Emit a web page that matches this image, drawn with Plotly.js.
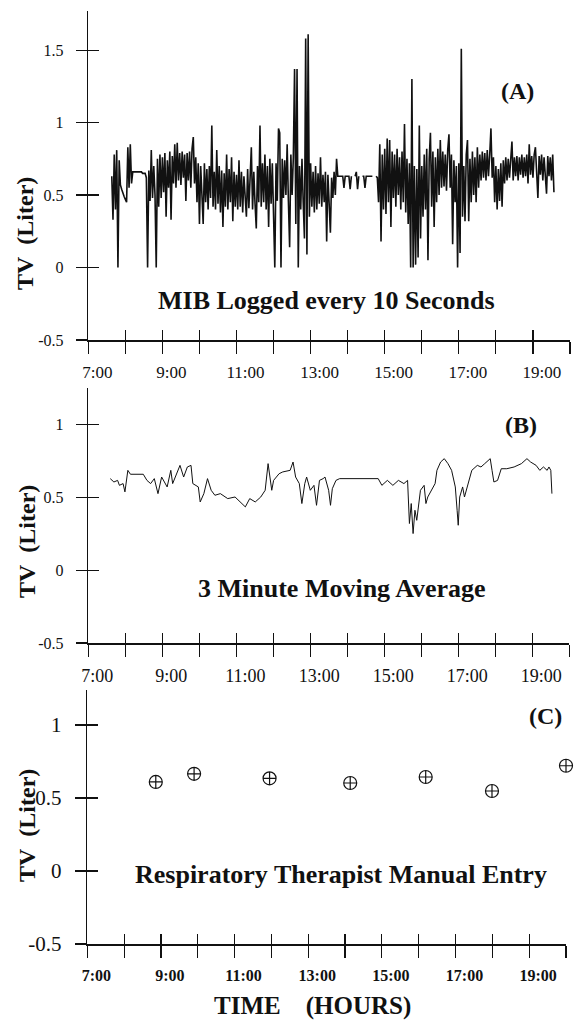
<!DOCTYPE html>
<html><head><meta charset="utf-8">
<script src="https://cdn.plot.ly/plotly-3.0.1.min.js"></script>
<style>html,body{margin:0;padding:0;background:#fff}#chart{width:577px;height:1022px}</style>
</head><body><div id="chart"></div>
<script>
// ---------- axis ticks ----------
const hourTicks  = [7, 8, 9, 10, 11, 12, 13, 14, 15, 16, 17, 18, 19, 20];
const hourLabels = ["7:00", "", "9:00", "", "11:00", "", "13:00", "", "15:00", "", "17:00", "", "19:00", ""];
const tvTicksA  = [-0.5, 0, 0.5, 1, 1.5];
const tvLabelsA = ["-0.5", "0", "0.5", "1", "1.5"];
const tvTicksBC  = [-0.5, 0, 0.5, 1];
const tvLabelsBC = ["-0.5", "0", "0.5", "1"];

// ---------- (A) MIB logged values, read every 2 minutes from 7:38 ----------
const aStartHour = 7 + 38 / 60;
const aStepHours = 2 / 60;
const a07 = [.63,.33,.78,.40,.81,0,.74,.57,.54,.51,.49];
const a08 = [.47,.45,.83,.55,.85,.58,.66,.66,.66,.66,.66,.66,.66,.66,.65,.65,.65,.62,0,.67,.46,.81,.48,.70,.50,0,.75,.42,.78,.48];
const a09 = [.76,.52,.79,.35,.74,.55,.80,.33,.77,.58,.85,.55,.86,.60,.79,.57,.80,.62,.78,.46,.79,.60,.80,.55,.82,.90,.58,.76,.45,.72];
const a10 = [.30,.70,.42,.30,.72,.45,.68,.40,.70,.48,.98,.42,.66,.40,.81,.44,.70,.38,.67,.28,.65,.42,.78,.40,.68,.45,.76,.32,.66,.42];
const a11 = [.64,.40,.74,.42,.66,.38,.63,.43,.35,.68,.41,.62,.83,.40,.66,.44,.27,.70,.45,.98,.42,.72,.45,.78,.40,.70,.28,.75,.44,.72];
const a12 = [.44,0,.72,.46,.96,.93,0,.75,.48,.74,.50,.85,.46,.14,.78,.50,.76,1.37,.30,1.37,0,.70,.40,.75,.45,.20,1.58,.09,1.61,.35];
const a13 = [.72,.42,.66,.38,.70,.40,.65,.44,.76,.42,.64,.45,.66,.18,.64,.44,.24,.62,.48,.66,.50,.75,.63,.63,.63,.63,.63,.55,.63,.63];
const a14 = [.63,.63,.54,.63,null,null,.63,.66,.54,.63,null,null,.63,.63,.55,.63,.63,.63,.63,.63,.63,null,null,.63,.62,.45,.85,.18,.78,.40];
const a15 = [.82,.37,.89,.45,.88,.28,.80,.48,.78,.42,.82,.50,.76,.40,.80,.45,.99,.38,.75,.30,.72,0,1.30,0,.70,.02,.68,.07,.98,.20];
const a16 = [.70,.35,.78,.40,.82,.05,.75,.93,.42,.80,.28,.76,.45,.82,.50,.88,.55,.80,.56,.78,.53,.81,.92,.55,.78,.16,.74,.45,.70,0];
const a17 = [.72,.10,1.51,.35,.70,.32,.78,.88,.32,.75,.45,.80,.50,.76,.45,.83,.55,.78,.60,.80,.62,.79,.60,.81,.63,.78,.96,.62,.76,.45];
const a18 = [.70,.40,.68,.46,.72,.42,.74,.58,.76,.60,.75,.62,.77,.87,.60,.76,.63,.77,.60,.76,.64,.78,.62,.76,.63,.78,.58,.85,.64,.77];
const a19 = [.62,.78,.83,.63,.48,.77,.64,.78,.60,.76,.62,.51,.77,.63,.76,.60,.78,.52];

// ---------- (B) 3 minute moving average ----------
const bTime = [7.593,7.692,7.792,7.841,7.940,7.990,8.069,8.139,8.486,8.585,8.684,8.784,8.883,8.982,9.131,9.230,9.280,9.379,9.478,9.577,9.677,9.776,9.825,9.974,10.024,10.123,10.222,10.321,10.421,10.569,10.768,10.966,11.115,11.244,11.363,11.512,11.661,11.780,11.859,11.958,12.008,12.157,12.256,12.455,12.534,12.603,12.703,12.772,12.851,12.901,13.0,13.099,13.168,13.248,13.347,13.397,13.496,13.546,13.595,13.694,13.793,14.835,14.934,15.083,15.232,15.381,15.530,15.629,15.679,15.728,15.778,15.828,15.877,15.927,15.977,16.076,16.125,16.175,16.274,16.373,16.423,16.522,16.621,16.720,16.819,16.919,16.968,16.998,17.038,17.117,17.167,17.266,17.365,17.514,17.613,17.714,17.863,17.912,17.962,18.061,18.161,18.310,18.508,18.706,18.855,18.954,19.103,19.202,19.301,19.401,19.450,19.500,19.530];
const bTV   = [0.628,0.605,0.616,0.582,0.594,0.537,0.685,0.658,0.658,0.616,0.594,0.628,0.525,0.639,0.571,0.685,0.594,0.662,0.719,0.639,0.708,0.719,0.594,0.571,0.468,0.525,0.628,0.548,0.514,0.525,0.491,0.502,0.468,0.434,0.491,0.468,0.502,0.548,0.731,0.548,0.616,0.662,0.674,0.685,0.742,0.639,0.594,0.457,0.594,0.639,0.548,0.582,0.445,0.616,0.628,0.639,0.548,0.445,0.559,0.616,0.628,0.628,0.582,0.616,0.582,0.616,0.594,0.616,0.320,0.457,0.251,0.411,0.342,0.468,0.548,0.582,0.457,0.502,0.548,0.594,0.685,0.742,0.765,0.731,0.685,0.571,0.411,0.308,0.502,0.571,0.502,0.594,0.685,0.719,0.708,0.731,0.765,0.685,0.605,0.616,0.696,0.696,0.708,0.731,0.765,0.742,0.719,0.685,0.708,0.685,0.708,0.685,0.525];

// ---------- (C) respiratory therapist manual entries ----------
const cTime = [8.86, 9.90, 11.95, 14.14, 16.19, 17.99, 20.0];
const cTV   = [0.61, 0.666, 0.635, 0.603, 0.644, 0.548, 0.721];

// ---------- build ----------
const aTV = [].concat(a07, a08, a09, a10, a11, a12, a13, a14, a15, a16, a17, a18, a19);
const aTime = aTV.map((v, i) => aStartHour + i * aStepHours);

const W = 577, H = 1022;
const px = x => x / W, py = y => 1 - y / H;
const SERIF = "Liberation Serif, Times New Roman, serif";
const INK = "#111";

const base = {showline: true, linecolor: INK, linewidth: 1.5, ticks: "outside", tickcolor: INK,
  tickwidth: 1.2, showgrid: false, zeroline: false, fixedrange: true, tickmode: "array"};
const over = {ticks: "inside", tickcolor: INK, tickwidth: 1.2, showticklabels: false, showline: false,
  showgrid: false, zeroline: false, fixedrange: true, tickmode: "array"};

function xAx(dom, anchor, size, bold) {
  return Object.assign({}, base, {domain: dom, anchor: anchor, range: [7, 20], tickvals: hourTicks,
    ticktext: hourLabels, ticklen: 12, ticklabelshift: 9, ticklabelstandoff: 4,
    tickfont: {family: SERIF, size: size, color: INK, weight: bold ? "bold" : "normal"}});
}
function yAx(dom, anchor, range, tv, tt, size) {
  return Object.assign({}, base, {domain: dom, anchor: anchor, range: range, tickvals: tv, ticktext: tt,
    ticklen: 11, ticklabelstandoff: 9, tickfont: {family: SERIF, size: size, color: INK}});
}

const rangeA = [-0.5, 1.77], rangeB = [-0.5, 1.25], rangeC = [-0.5, 1.24];

const layout = {
  width: W, height: H, margin: {l: 0, r: 0, t: 0, b: 0},
  paper_bgcolor: "#fff", plot_bgcolor: "rgba(0,0,0,0)", showlegend: false,
  xaxis:  xAx([px(88.3), px(570)], "y", 17, false),
  yaxis:  yAx([py(340), py(11)], "x", rangeA, tvTicksA, tvLabelsA, 16),
  xaxis2: xAx([px(88.3), px(569.3)], "y2", 18, false),
  yaxis2: yAx([py(643), py(388)], "x2", rangeB, tvTicksBC, tvLabelsBC, 16),
  xaxis3: xAx([px(87.3), px(566)], "y3", 16, true),
  yaxis3: yAx([py(944), py(690)], "x3", rangeC, tvTicksBC, tvLabelsBC, 21),
  xaxis4: Object.assign({}, over, {overlaying: "x", anchor: "y", range: [7, 20], tickvals: hourTicks, ticklen: 10}),
  yaxis4: Object.assign({}, over, {overlaying: "y", anchor: "x", range: rangeA, tickvals: tvTicksA, ticklen: 11}),
  xaxis5: Object.assign({}, over, {overlaying: "x2", anchor: "y2", range: [7, 20], tickvals: hourTicks, ticklen: 10}),
  yaxis5: Object.assign({}, over, {overlaying: "y2", anchor: "x2", range: rangeB, tickvals: tvTicksBC, ticklen: 11}),
  xaxis6: Object.assign({}, over, {overlaying: "x3", anchor: "y3", range: [7, 20], tickvals: hourTicks, ticklen: 10}),
  yaxis6: Object.assign({}, over, {overlaying: "y3", anchor: "x3", range: rangeC, tickvals: tvTicksBC, ticklen: 11}),
  annotations: [
    {text: "<b>(A)</b>", x: px(517.7), y: py(91), size: 24},
    {text: "<b>MIB Logged every 10 Seconds</b>", x: px(326.7), y: py(300), size: 26},
    {text: "<b>(B)</b>", x: px(521), y: py(425), size: 24},
    {text: "<b>3 Minute Moving Average</b>", x: px(342), y: py(588), size: 26},
    {text: "<b>(C)</b>", x: px(545), y: py(716), size: 24},
    {text: "<b>Respiratory Therapist Manual Entry</b>", x: px(340.5), y: py(874), size: 26},
    {text: "<b>TIME\u00a0\u00a0\u00a0\u00a0(HOURS)</b>", x: px(312), y: py(1006), size: 25},
    {text: "<b>TV\u00a0\u00a0(Liter)</b>", x: px(25), y: py(234), size: 24, angle: -90},
    {text: "<b>TV\u00a0\u00a0(Liter)</b>", x: px(27), y: py(542), size: 24, angle: -90},
    {text: "<b>TV\u00a0\u00a0(Liter)</b>", x: px(27), y: py(826), size: 24, angle: -90}
  ].map(a => ({text: a.text, x: a.x, y: a.y, xref: "paper", yref: "paper", xanchor: "center",
    yanchor: "middle", showarrow: false, textangle: a.angle || 0,
    font: {family: SERIF, size: a.size, color: INK}}))
};

const traces = [
  {x: aTime, y: aTV, mode: "lines", line: {color: INK, width: 1.6}, xaxis: "x", yaxis: "y", connectgaps: false, hoverinfo: "skip"},
  {x: bTime, y: bTV, mode: "lines", line: {color: INK, width: 1}, xaxis: "x2", yaxis: "y2", hoverinfo: "skip"},
  {x: cTime, y: cTV, mode: "markers", cliponaxis: false, xaxis: "x3", yaxis: "y3", hoverinfo: "skip",
   marker: {symbol: "circle-cross-open", size: 13, color: INK, line: {width: 1.2, color: INK}}},
  {x: [], y: [], mode: "lines", xaxis: "x4", yaxis: "y4", hoverinfo: "skip"},
  {x: [], y: [], mode: "lines", xaxis: "x5", yaxis: "y5", hoverinfo: "skip"},
  {x: [], y: [], mode: "lines", xaxis: "x6", yaxis: "y6", hoverinfo: "skip"}
];

Plotly.newPlot("chart", traces, layout, {staticPlot: true, displayModeBar: false});
</script></body></html>
